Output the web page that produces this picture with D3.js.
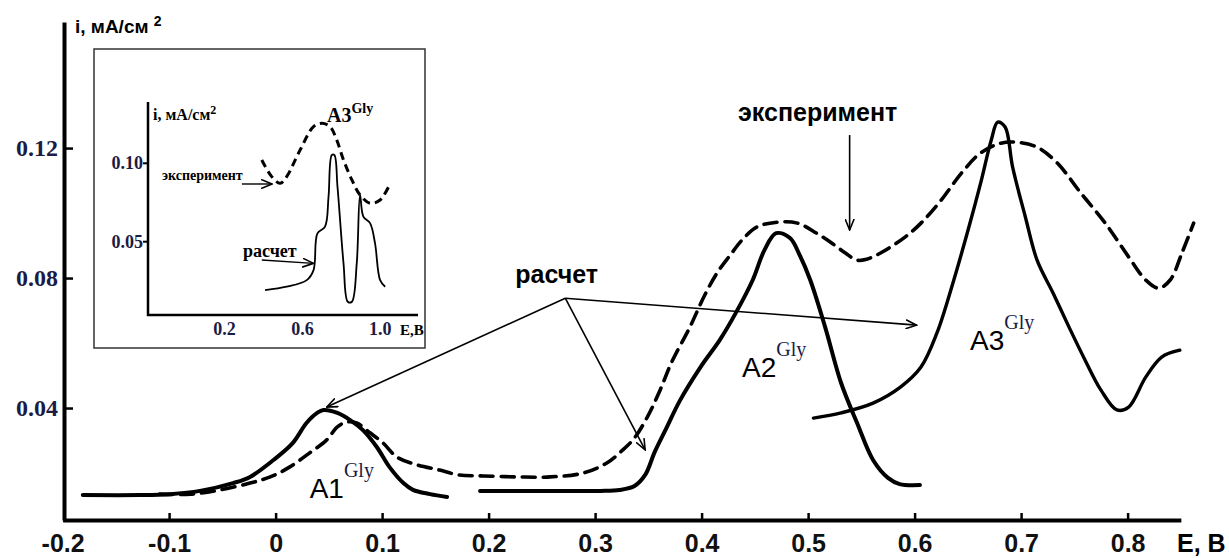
<!DOCTYPE html>
<html>
<head>
<meta charset="utf-8">
<script src="https://cdn.jsdelivr.net/npm/d3@7"></script>
<style>
  body { margin: 0; background: #fff; }
  svg { display: block; }
</style>
</head>
<body>
<svg id="chart" width="1229" height="558"></svg>
<script>
// ---- main chart data (E, V vs i, mA/cm2) ----
const xTicks = [-0.2, -0.1, 0, 0.1, 0.2, 0.3, 0.4, 0.5, 0.6, 0.7, 0.8];
const yTicks = [0.04, 0.08, 0.12];

// experiment (dashed)
const expE = [-0.109, -0.080, -0.052, -0.024, -0.005, 0.013, 0.032, 0.048, 0.058, 0.067,
  0.076, 0.089, 0.101, 0.114, 0.133, 0.154, 0.172, 0.195, 0.227, 0.258,
  0.289, 0.311, 0.326, 0.337, 0.350, 0.361, 0.372, 0.389, 0.403, 0.415,
  0.427, 0.438, 0.452, 0.471, 0.490, 0.508, 0.522, 0.535, 0.546, 0.555,
  0.568, 0.591, 0.606, 0.625, 0.644, 0.662, 0.681, 0.696, 0.715, 0.734,
  0.756, 0.779, 0.801, 0.817, 0.829, 0.840, 0.851, 0.862];
const expI = [0.0135, 0.0135, 0.0148, 0.0169, 0.0188, 0.0218, 0.0262, 0.0302, 0.0342, 0.0357,
  0.0354, 0.0323, 0.0292, 0.0249, 0.0225, 0.0209, 0.0194, 0.0191, 0.0188, 0.0188,
  0.0200, 0.0231, 0.0271, 0.0308, 0.0378, 0.0455, 0.0542, 0.0649, 0.0748, 0.0818,
  0.0871, 0.0917, 0.0957, 0.0972, 0.0969, 0.0938, 0.0908, 0.0877, 0.0855, 0.0858,
  0.0877, 0.0926, 0.0969, 0.1040, 0.1123, 0.1185, 0.1215, 0.1218, 0.1203, 0.1154,
  0.1062, 0.0969, 0.0865, 0.0794, 0.0769, 0.0794, 0.0877, 0.0969];

// calculated peaks (solid)
const calcA1E = [-0.181, -0.127, -0.099, -0.071, -0.040, -0.024, -0.002, 0.016, 0.029, 0.039,
  0.045, 0.058, 0.070, 0.082, 0.095, 0.107, 0.120, 0.129, 0.145, 0.161];
const calcA1I = [0.0132, 0.0132, 0.0135, 0.0145, 0.0169, 0.0188, 0.0240, 0.0292, 0.0354, 0.0385,
  0.0394, 0.0385, 0.0363, 0.0332, 0.0280, 0.0218, 0.0169, 0.0148, 0.0135, 0.0126];

const calcA2E = [0.192, 0.229, 0.267, 0.305, 0.323, 0.337, 0.347, 0.356, 0.366, 0.380,
  0.399, 0.417, 0.432, 0.448, 0.459, 0.470, 0.483, 0.492, 0.502, 0.516,
  0.531, 0.546, 0.561, 0.575, 0.586, 0.605];
const calcA2I = [0.0145, 0.0145, 0.0145, 0.0145, 0.0148, 0.0160, 0.0194, 0.0265, 0.0332, 0.0425,
  0.0526, 0.0609, 0.0692, 0.0794, 0.0886, 0.0938, 0.0923, 0.0871, 0.0794, 0.0649,
  0.0477, 0.0354, 0.0240, 0.0185, 0.0166, 0.0163];

const calcA3E = [0.505, 0.531, 0.561, 0.587, 0.606, 0.621, 0.636, 0.651, 0.662, 0.672,
  0.678, 0.685, 0.692, 0.704, 0.715, 0.730, 0.745, 0.760, 0.775, 0.790,
  0.801, 0.817, 0.832, 0.849];
const calcA3I = [0.0369, 0.0385, 0.0415, 0.0465, 0.0526, 0.0631, 0.0785, 0.0957, 0.1092, 0.1225,
  0.1280, 0.1265, 0.1142, 0.0988, 0.0855, 0.0754, 0.0649, 0.0548, 0.0455, 0.0394,
  0.0403, 0.0495, 0.0557, 0.0578];

// ---- inset data ----
const insetXTicks = [0.2, 0.6, 1.0];
const insetYTicks = [0.05, 0.10];
const insetExpE = [0.391, 0.442, 0.485, 0.519, 0.588, 0.657, 0.699, 0.742, 0.776, 0.811,
  0.854, 0.896, 0.948, 0.999, 1.051];
const insetExpI = [0.1021, 0.0915, 0.0872, 0.0915, 0.1085, 0.1234, 0.1255, 0.1234, 0.1149, 0.1021,
  0.0894, 0.0798, 0.0745, 0.0766, 0.0872];
const insetCalcE = [0.408, 0.519, 0.622, 0.657, 0.677, 0.716, 0.734, 0.751, 0.764, 0.780,
  0.811, 0.833, 0.854, 0.879, 0.896, 0.913, 0.948, 0.973, 0.999, 1.025];
const insetCalcI = [0.0191, 0.0213, 0.0255, 0.0319, 0.0553, 0.0596, 0.0787, 0.1053, 0.1053, 0.0851,
  0.0362, 0.0117, 0.0117, 0.0362, 0.0798, 0.0660, 0.0617, 0.0489, 0.0255, 0.0213];

const SANS = "'Liberation Sans', Arial, sans-serif";
const SERIF = "'Liberation Serif', 'Times New Roman', serif";
const NAVY = "#1b1b45";

const svg = d3.select("#chart");
svg.append("rect").attr("width", 1229).attr("height", 558).attr("fill", "#fff");

// arrow head marker
const defs = svg.append("defs");
defs.append("marker")
    .attr("id", "head")
    .attr("viewBox", "0 0 12 10")
    .attr("refX", 11).attr("refY", 5)
    .attr("markerWidth", 12).attr("markerHeight", 10)
    .attr("markerUnits", "userSpaceOnUse")
    .attr("orient", "auto")
  .append("path")
    .attr("d", "M0,0.5 L11,5 L0,9.5")
    .attr("fill", "none").attr("stroke", "#000").attr("stroke-width", 1.6);

// 1. scales
const x = d3.scaleLinear().domain([-0.2, 0.85]).range([62.6, 1180.85]);
const y = d3.scaleLinear().domain([0.00554, 0.1588]).range([520, 22]);

// 2. axes
const xAxis = svg.append("g")
    .attr("transform", "translate(0,520)")
    .call(d3.axisBottom(x).tickValues(xTicks).tickSize(-7).tickSizeOuter(0)
        .tickFormat(d => d === 0 ? "0" : d.toFixed(1)));
xAxis.select(".domain").attr("stroke-width", 4);
xAxis.selectAll(".tick line").attr("stroke-width", 2.5);
xAxis.selectAll(".tick text")
    .attr("y", 32).attr("dy", 0)
    .style("font-family", SANS).style("font-weight", "bold").style("font-size", "25px")
    .attr("fill", "#111");
// the -0.2 tick sits on the y axis
xAxis.selectAll(".tick").filter(d => d === -0.2).select("line").remove();

const yAxis = svg.append("g")
    .attr("transform", "translate(64,0)")
    .call(d3.axisLeft(y).tickValues(yTicks).tickSize(-9).tickSizeOuter(0).tickPadding(6)
        .tickFormat(d => d.toFixed(2)));
yAxis.select(".domain").attr("stroke-width", 4);
yAxis.selectAll(".tick line").attr("stroke-width", 2.5);
yAxis.selectAll(".tick text")
    .attr("dy", "0.33em")
    .style("font-family", SERIF).style("font-weight", "bold").style("font-size", "24px")
    .attr("fill", NAVY);

// axis titles
const yTitle = svg.append("text")
    .attr("x", 75).attr("y", 33)
    .style("font-family", SANS).style("font-weight", "bold").style("font-size", "19px");
yTitle.append("tspan").text("i, мА/см ");
yTitle.append("tspan").attr("dy", -7).style("font-size", "14px").text("2");

svg.append("text")
    .attr("x", 1177).attr("y", 552)
    .style("font-family", SANS).style("font-weight", "bold").style("font-size", "25px")
    .text("E, B");

// 3. curves
const line = d3.line()
    .x(d => x(d[0])).y(d => y(d[1]))
    .curve(d3.curveCatmullRom.alpha(0.5));

const curves = svg.append("g").attr("fill", "none").attr("stroke", "#000")
    .attr("stroke-linecap", "round").attr("stroke-linejoin", "round");
curves.append("path")
    .attr("d", line(d3.zip(expE, expI)))
    .attr("stroke-width", 3.6)
    .attr("stroke-dasharray", "13,8");
[[calcA1E, calcA1I, 4], [calcA2E, calcA2I, 4], [calcA3E, calcA3I, 3.4]].forEach(([e, i, w]) => {
    curves.append("path")
        .attr("d", line(d3.zip(e, i)))
        .attr("stroke-width", w);
});

// 4. peak labels
function peakLabel(g, e, i, name, sx, sy, size, supSize, weight) {
    const t = g.append("text")
        .attr("x", sx(e)).attr("y", sy(i))
        .style("font-family", SANS).style("font-size", size + "px")
        .style("font-weight", weight);
    t.append("tspan").text(name);
    t.append("tspan").attr("dy", -size * 0.75)
        .style("font-family", SERIF).style("font-size", supSize + "px")
        .attr("fill", NAVY).text("Gly");
    return t;
}
peakLabel(svg, 0.032, 0.0123, "A1", x, y, 28, 20, "normal");
peakLabel(svg, 0.438, 0.0495, "A2", x, y, 28, 20, "normal");
peakLabel(svg, 0.652, 0.0578, "A3", x, y, 28, 20, "normal");

// 5. annotations
const ann = svg.append("g");
ann.append("text")
    .attr("x", x(0.225)).attr("y", y(0.0785))
    .style("font-family", SANS).style("font-weight", "bold").style("font-size", "25px")
    .text("расчет");
const calcFrom = [0.272, 0.0738];
[[0.048, 0.0403], [0.347, 0.0271], [0.602, 0.0655]].forEach(p => {
    ann.append("line")
        .attr("x1", x(calcFrom[0])).attr("y1", y(calcFrom[1]))
        .attr("x2", x(p[0])).attr("y2", y(p[1]))
        .attr("stroke", "#000").attr("stroke-width", 1.6)
        .attr("marker-end", "url(#head)");
});
ann.append("text")
    .attr("x", x(0.509)).attr("y", y(0.1283))
    .attr("text-anchor", "middle")
    .style("font-family", SANS).style("font-weight", "bold").style("font-size", "25px")
    .text("эксперимент");
ann.append("line")
    .attr("x1", x(0.539)).attr("y1", y(0.124))
    .attr("x2", x(0.539)).attr("y2", y(0.0948))
    .attr("stroke", "#000").attr("stroke-width", 1.6)
    .attr("marker-end", "url(#head)");

// ---- inset ----
const inset = svg.append("g");
inset.append("rect")
    .attr("x", 94).attr("y", 49).attr("width", 331).attr("height", 299)
    .attr("fill", "#fff").attr("stroke", "#333").attr("stroke-width", 1.5);

const xi = d3.scaleLinear().domain([0.2, 1.0]).range([224.6, 380.3]);
const yi = d3.scaleLinear().domain([0.05, 0.10]).range([241.7, 163.3]);
const xiMin = xi.invert(148), xiMax = xi.invert(418);
const yiMin = yi.invert(315), yiMax = yi.invert(102);

inset.append("path")
    .attr("d", `M${xi(xiMin)},${yi(yiMax)}V${yi(yiMin)}H${xi(xiMax)}`)
    .attr("fill", "none").attr("stroke", "#000").attr("stroke-width", 2.5);
insetYTicks.forEach(v => {
    inset.append("line")
        .attr("x1", xi(xiMin) - 5).attr("x2", xi(xiMin))
        .attr("y1", yi(v)).attr("y2", yi(v))
        .attr("stroke", "#000").attr("stroke-width", 2);
    inset.append("text")
        .attr("x", xi(xiMin) - 5).attr("y", yi(v) + 6)
        .attr("text-anchor", "end")
        .style("font-family", SERIF).style("font-weight", "bold").style("font-size", "18px")
        .attr("fill", NAVY).text(v.toFixed(2));
});
insetXTicks.forEach(v => {
    inset.append("text")
        .attr("x", xi(v)).attr("y", 335)
        .attr("text-anchor", "middle")
        .style("font-family", SERIF).style("font-weight", "bold").style("font-size", "18px")
        .attr("fill", NAVY).text(v.toFixed(1));
});
inset.append("text")
    .attr("x", 400).attr("y", 335)
    .style("font-family", SERIF).style("font-weight", "bold").style("font-size", "15px")
    .text("E,B");

const yiTitle = inset.append("text")
    .attr("x", 153).attr("y", 120)
    .style("font-family", SERIF).style("font-weight", "bold").style("font-size", "16px");
yiTitle.append("tspan").text("i, мА/см");
yiTitle.append("tspan").attr("dy", -6).style("font-size", "12px").text("2");

const lineI = d3.line()
    .x(d => xi(d[0])).y(d => yi(d[1]))
    .curve(d3.curveCatmullRom.alpha(0.5));
inset.append("path")
    .attr("d", lineI(d3.zip(insetExpE, insetExpI)))
    .attr("fill", "none").attr("stroke", "#000").attr("stroke-width", 3)
    .attr("stroke-dasharray", "8,5");
inset.append("path")
    .attr("d", lineI(d3.zip(insetCalcE, insetCalcI)))
    .attr("fill", "none").attr("stroke", "#000").attr("stroke-width", 1.8);

const a3 = inset.append("text")
    .attr("x", xi(0.726)).attr("y", yi(0.1263))
    .style("font-family", SERIF).style("font-weight", "bold").style("font-size", "20px");
a3.append("tspan").text("A3");
a3.append("tspan").attr("dy", -9).style("font-size", "14px").text("Gly");

inset.append("text")
    .attr("x", xi(-0.122)).attr("y", yi(0.0893))
    .style("font-family", SERIF).style("font-weight", "bold").style("font-size", "14px")
    .text("эксперимент");
inset.append("line")
    .attr("x1", xi(0.289)).attr("y1", yi(0.0868))
    .attr("x2", xi(0.444)).attr("y2", yi(0.0868))
    .attr("stroke", "#000").attr("stroke-width", 1.4)
    .attr("marker-end", "url(#head)");
inset.append("text")
    .attr("x", xi(0.295)).attr("y", yi(0.0404))
    .style("font-family", SERIF).style("font-weight", "bold").style("font-size", "18px")
    .text("расчет");
inset.append("line")
    .attr("x1", xi(0.391)).attr("y1", yi(0.0383))
    .attr("x2", xi(0.656)).attr("y2", yi(0.0362))
    .attr("stroke", "#000").attr("stroke-width", 1.4)
    .attr("marker-end", "url(#head)");
</script>
</body>
</html>
